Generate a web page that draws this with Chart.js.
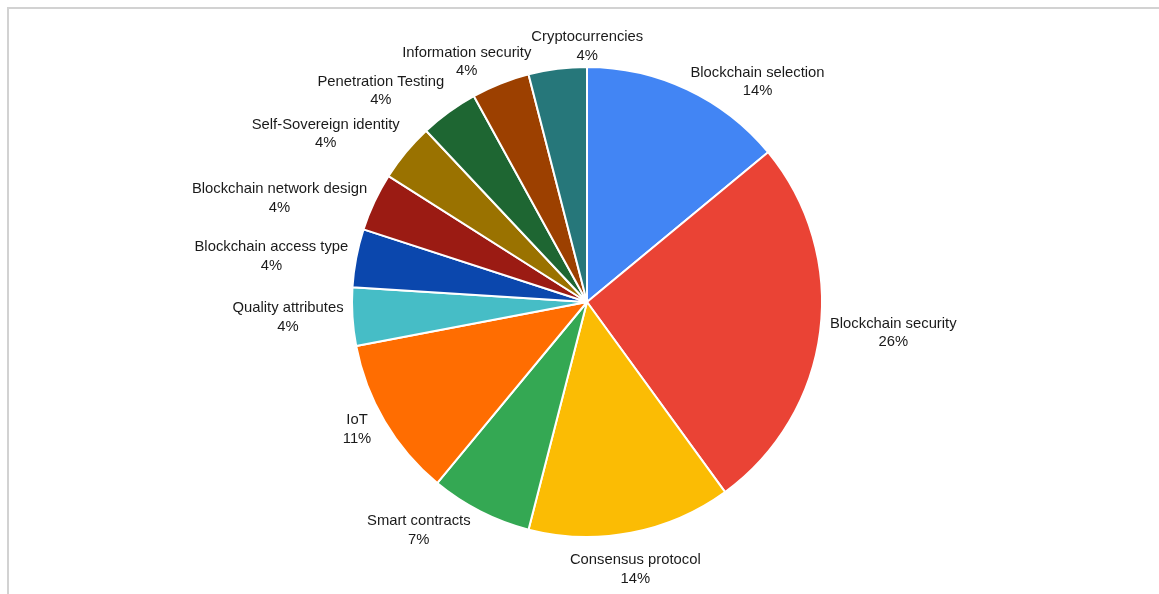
<!DOCTYPE html>
<html>
<head>
<meta charset="utf-8">
<title>Research topics</title>
<script src="https://cdn.jsdelivr.net/npm/chart.js@4.4.1/dist/chart.umd.min.js"></script>
<style>
  html, body { margin: 0; padding: 0; background: #fff; overflow: hidden; }
  #wrap { position: relative; width: 1159px; height: 594px; }
  #frame {
    position: absolute; left: 7px; top: 7px; width: 1200px; height: 700px;
    border-top: 2px solid #d2d2d2; border-left: 2px solid #d2d2d2;
    pointer-events: none;
  }
</style>
</head>
<body>
<div id="wrap">
  <canvas id="topicPie"></canvas>
  <div id="frame"></div>
</div>
<script>
const topics = [
  'Blockchain selection', 'Blockchain security', 'Consensus protocol', 'Smart contracts',
  'IoT', 'Quality attributes', 'Blockchain access type', 'Blockchain network design',
  'Self-Sovereign identity', 'Penetration Testing', 'Information security', 'Cryptocurrencies'
];
const shares = [14, 26, 14, 7, 11, 4, 4, 4, 4, 4, 4, 4]; // percent
const sliceColors = [
  '#4285f4', '#ea4335', '#fbbc04', '#34a853',
  '#ff6d01', '#46bdc6', '#0b47ad', '#9b1b13',
  '#9a7200', '#1e6632', '#9c4000', '#26777a'
];

const labelFont = '14.8px "Liberation Sans", Arial, sans-serif';
const lineH = 18.5;
const halfText = 14.3;   // half of cap-top..baseline of a two-line label
const minGapY = 26;

const clamp01 = v => Math.min(1, Math.max(0, v));

// outside labels: name over percentage, centred lines
const outsideLabels = {
  id: 'outsideLabels',
  afterDatasetsDraw(chart) {
    const ctx = chart.ctx;
    const arcs = chart.getDatasetMeta(0).data;
    const cx = arcs[0].x, cy = arcs[0].y, r = arcs[0].outerRadius;
    ctx.save();
    ctx.font = labelFont;

    const labels = arcs.map((arc, i) => {
      const lines = [topics[i], shares[i] + '%'];
      const w = Math.max(...lines.map(t => ctx.measureText(t).width));
      const mid = (arc.startAngle + arc.endAngle) / 2;
      const dx = Math.cos(mid), dy = Math.sin(mid);
      const d = r + 8 + 15 * Math.max(dy, 0);
      const ax = cx + dx * d, ay = cy + dy * d;
      const side = Math.abs(dx) >= 0.4;
      let x, y;
      if (side) {
        // edge of the text sits on the anchor; upper-left column spreads upward
        x = ax + Math.sign(dx) * w / 2;
        y = ay - (dx < 0 && dy < 0 ? clamp01((-dy - 0.45) * 5) * halfText : 0);
      } else {
        x = ax;
        y = ay + Math.sign(dy) * halfText;
      }
      return { lines, w, x, y, side };
    });

    // nudge neighbours apart until nothing overlaps
    for (let it = 0; it < 200; it++) {
      let moved = false;
      for (let i = 0; i < labels.length; i++) {
        const a = labels[i], b = labels[(i + 1) % labels.length];
        const ox = (a.w + b.w) / 2 - Math.abs(a.x - b.x);
        const oy = minGapY - Math.abs(a.y - b.y);
        if (ox <= 0 || oy <= 0) continue;
        moved = true;
        if (!a.side && !b.side) {
          const s = Math.sign(b.x - a.x) || 1;
          a.x -= s * ox / 2; b.x += s * ox / 2;
        } else {
          const s = Math.sign(b.y - a.y) || 1;
          a.y -= s * oy / 2; b.y += s * oy / 2;
        }
      }
      if (!moved) break;
    }

    ctx.fillStyle = '#1a1a1a';
    ctx.textAlign = 'center';
    ctx.textBaseline = 'middle';
    labels.forEach(l => {
      ctx.fillText(l.lines[0], l.x, l.y - lineH / 2);
      ctx.fillText(l.lines[1], l.x, l.y + lineH / 2);
    });
    ctx.restore();
  }
};

new Chart(document.getElementById('topicPie'), {
  type: 'pie',
  data: {
    labels: topics,
    datasets: [{
      data: shares,
      backgroundColor: sliceColors,
      borderColor: '#ffffff',
      borderWidth: 2
    }]
  },
  options: {
    responsive: true,
    maintainAspectRatio: false,
    animation: false,
    layout: { padding: { top: 66, bottom: 56, left: 215, right: 200 } },
    plugins: {
      legend: { display: false },
      tooltip: { enabled: false }
    }
  },
  plugins: [outsideLabels]
});
</script>
</body>
</html>
